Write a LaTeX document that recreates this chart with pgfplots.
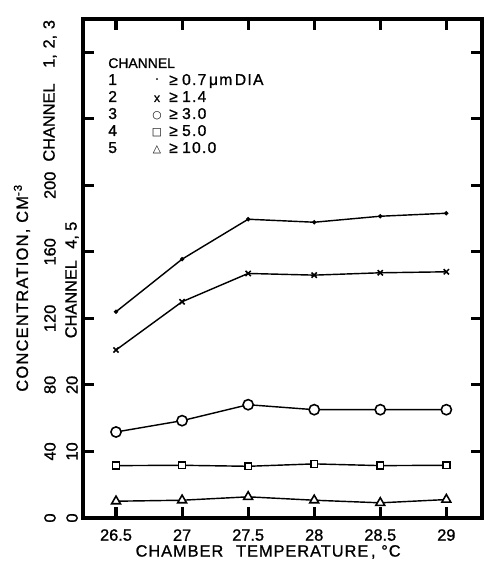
\documentclass[border=0pt]{standalone}
\usepackage{fontspec}
\setmainfont{Liberation Sans}[FakeBold=1]
\newfontfamily\symfont{DejaVu Sans}
\usepackage{pgfplots}
\pgfplotsset{compat=1.18}

% channels 1-3 on the left scale, channels 4-5 on the inner scale (x 1/4)
\pgfplotstableread{
T     c1     c2     c3
26.5  124.0  101.0  51.7
27    155.6  130.0  58.5
27.5  179.6  147.0  68.1
28    177.8  146.0  65.1
28.5  181.4  147.4  65.1
29    183.2  148.0  65.1
}\chanA
\pgfplotstableread{
T     c4     c5
26.5  7.87   2.52
27    7.92   2.67
27.5  7.77   3.18
28    8.13   2.67
28.5  7.87   2.28
29    7.92   2.77
}\chanB

\pgfplotsset{
  base/.style={
    scale only axis,
    width=280.5pt, height=350.8pt,
    xmin=26.25, xmax=29.27,
    ymin=0,
    clip=false,
    tick label style={font=\fontsize{11.5}{12}\selectfont},
    /pgf/number format/assume math mode=true,
  },
  series/.style={black, line width=1pt,
    mark options={solid, fill=white, line width=1.1pt}},
}
\tikzset{
  leg/.style={inner sep=0pt, anchor=base west,
    font=\fontsize{11}{12}\selectfont\addfontfeatures{LetterSpace=8}},
  legm/.style={inner sep=0pt, anchor=base, font=\symfont\fontsize{7.5}{9}\selectfont},
}

\begin{document}
\begin{tikzpicture}
\begin{axis}[
  base,
  ymax=300,
  xtick={26.5,27,27.5,28,28.5,29},
  xticklabels={26.5,27,27.5,28,28.5,29},
  ytick={0,40,...,280},
  yticklabels={0,40,80,120,160,200,,},
  tick align=inside,
  major tick length=8pt,
  axis line style={line width=2.2pt},
  every tick/.style={line width=2.2pt, black},
  xticklabel style={anchor=center, yshift=-12pt},
  yticklabel style={anchor=center, xshift=-23.2pt, rotate=90},
  xlabel={CHAMBER\hspace{9pt}TEMPERATURE\,,\hspace{4pt}°C},
  xlabel style={at={(axis description cs:0.464,-0.068)}, anchor=center,
    font=\fontsize{11.5}{12}\selectfont\addfontfeatures{LetterSpace=6}},
  ylabel={CONCENTRATION, CM\textsuperscript{-3}},
  ylabel style={at={(axis description cs:-0.153,0.461)}, anchor=center,
    font=\fontsize{11.5}{12}\selectfont\addfontfeatures{LetterSpace=8}},
]
\addplot[series, mark=*, mark size=0.9pt] table[x=T, y=c1] {\chanA};
\addplot[series, mark=x, mark size=2.6pt] table[x=T, y=c2] {\chanA};
\addplot[series, mark=*, mark size=3.6pt] table[x=T, y=c3] {\chanA};

\node[rotate=90, font=\fontsize{11.5}{12}\selectfont]
  at (rel axis cs:-0.0827,0.856) {CHANNEL\hspace{11pt}1,\hspace{4pt}2,\hspace{4pt}3};
\node[rotate=90, font=\fontsize{11.5}{12}\selectfont]
  at (rel axis cs:-0.0276,0.477) {CHANNEL\hspace{8pt}4,\hspace{3pt}5};

% key, one row at a time
\node[leg, font=\fontsize{9.8}{12}\selectfont] at (rel axis cs:0.0627,0.9018) {CHANNEL};
\node[leg] at (rel axis cs:0.0627,0.8677) {1};
\node[leg] at (rel axis cs:0.0627,0.8337) {2};
\node[leg] at (rel axis cs:0.0627,0.7996) {3};
\node[leg] at (rel axis cs:0.0627,0.7655) {4};
\node[leg] at (rel axis cs:0.0627,0.7315) {5};
\node[legm] at (rel axis cs:0.1855,0.8677) {\fontsize{10}{10}\selectfont ·};
\node[legm] at (rel axis cs:0.1855,0.8337) {\normalfont\fontsize{8.5}{9}\selectfont x};
\node[legm] at (rel axis cs:0.1855,0.7996) {○};
\node[legm] at (rel axis cs:0.1855,0.7655) {□};
\node[legm] at (rel axis cs:0.1855,0.7315) {△};
\node[leg] at (rel axis cs:0.2155,0.8677) {≥\hspace{3pt}0.7\,μm\,DIA};
\node[leg] at (rel axis cs:0.2155,0.8337) {≥\hspace{3pt}1.4};
\node[leg] at (rel axis cs:0.2155,0.7996) {≥\hspace{3pt}3.0};
\node[leg] at (rel axis cs:0.2155,0.7655) {≥\hspace{3pt}5.0};
\node[leg] at (rel axis cs:0.2155,0.7315) {≥\hspace{3pt}10.0};

\coordinate (bbsw) at (rel axis cs:-0.208,-0.0862);
\coordinate (bbne) at (rel axis cs:1.005,1.038);
\end{axis}

\begin{axis}[
  base,
  ymax=75,
  axis line style={draw=none},
  xtick=\empty,
  ytick={0,10,20},
  major tick length=0pt,
  yticklabel style={anchor=center, xshift=-7.7pt, rotate=90},
]
\addplot[series, mark=square*, mark size=2.4pt] table[x=T, y=c4] {\chanB};
\addplot[series, mark=triangle*, mark size=3.6pt] table[x=T, y=c5] {\chanB};
\end{axis}

\pgfresetboundingbox
\path[use as bounding box] (bbsw) rectangle (bbne);
\end{tikzpicture}
\end{document}
